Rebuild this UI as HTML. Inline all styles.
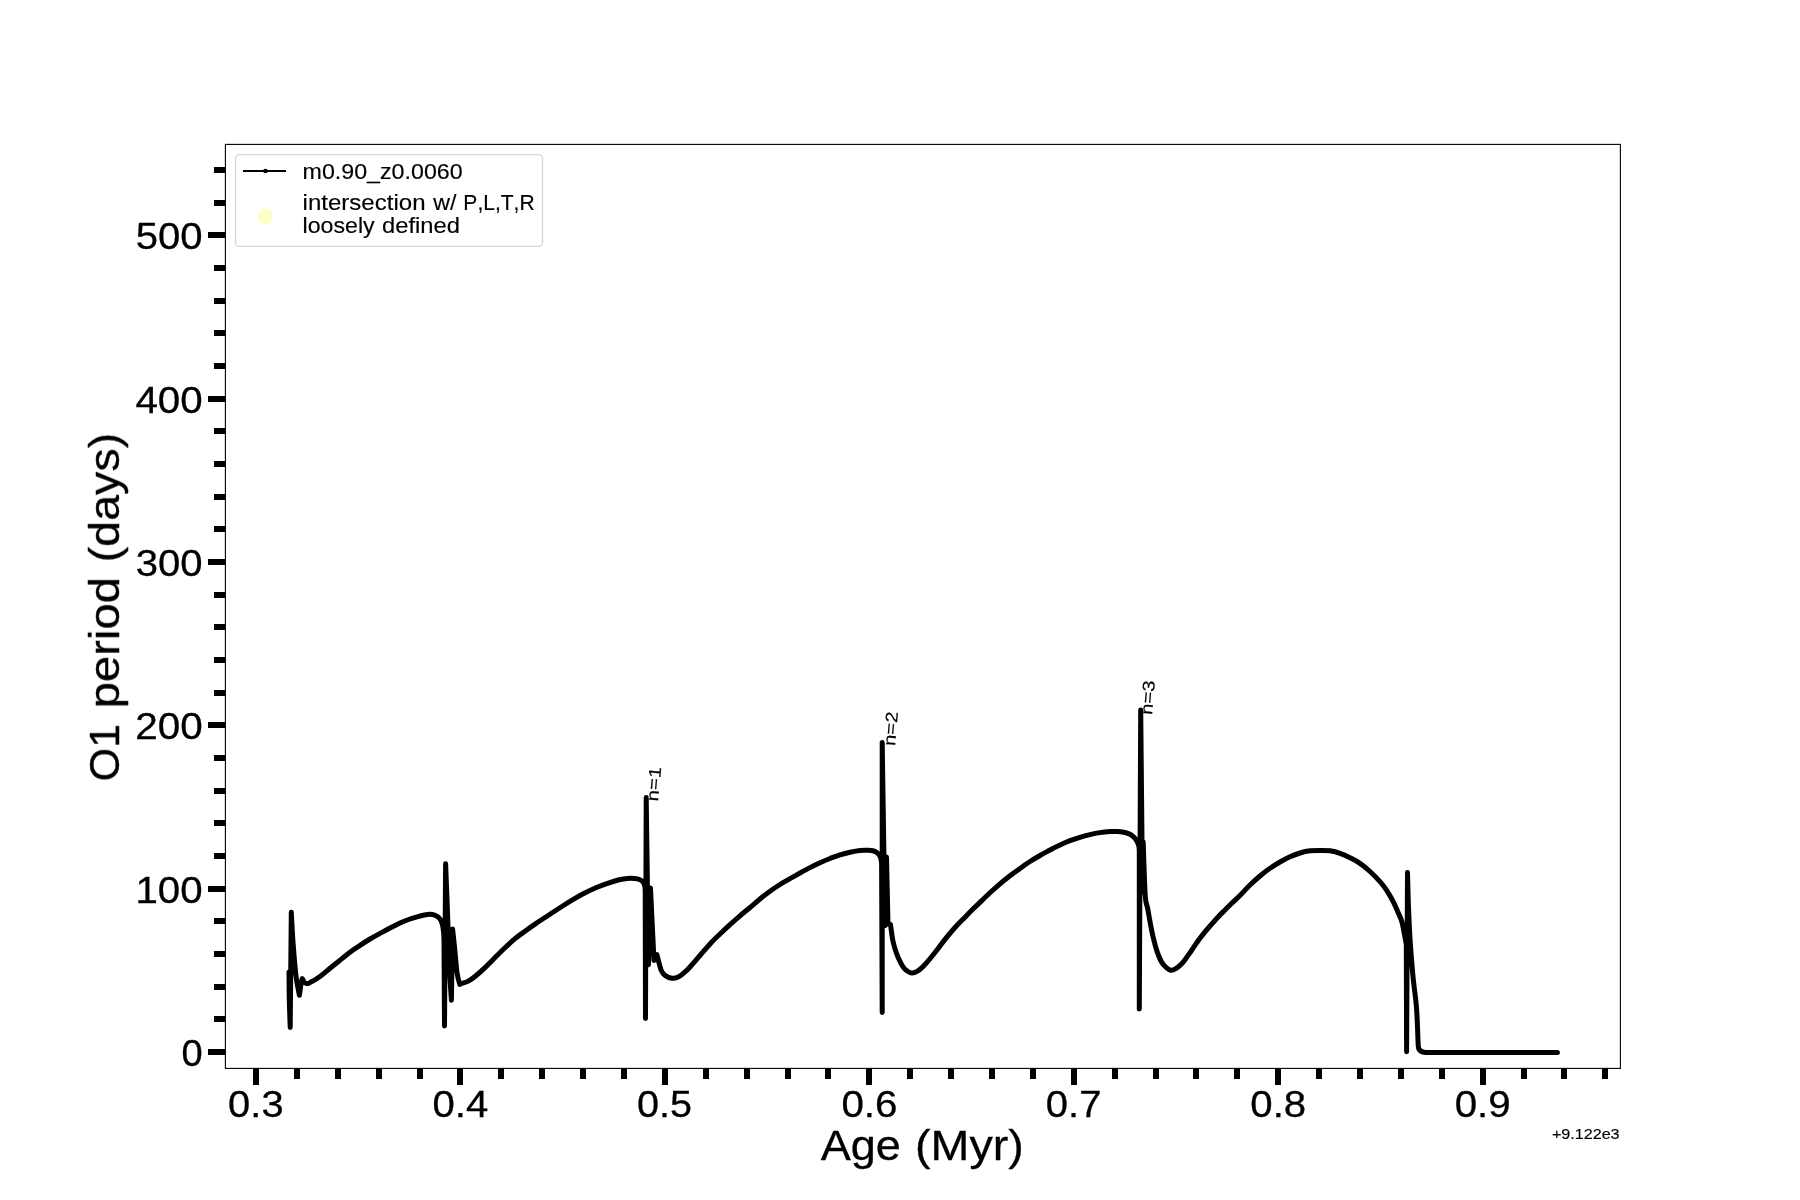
<!DOCTYPE html>
<html><head><meta charset="utf-8">
<style>
html,body{margin:0;padding:0;background:#fff;}
body{width:1800px;height:1200px;overflow:hidden;font-family:"Liberation Sans",sans-serif;}
svg{display:block}
text{font-family:"Liberation Sans",sans-serif;fill:#000;font-kerning:none;font-variant-ligatures:none}
.big text{stroke:#000;stroke-width:0.3px}
.med text{stroke:#000;stroke-width:0.15px}
</style></head><body>
<svg width="1800" height="1200" viewBox="0 0 1800 1200">
<rect x="0" y="0" width="1800" height="1200" fill="#fff"/>
<!--CURVE-->
<path d="M289.0 972.0C289.1 976.7 289.1 990.8 289.3 1000.0C289.5 1009.2 290.1 1022.9 290.2 1027.5L291.3 912.2C291.6 917.2 292.2 931.4 293.0 942.0C293.8 952.6 294.9 967.1 296.0 976.0C297.1 984.9 298.8 992.1 299.4 995.3C299.7 993.4 300.5 986.8 301.0 984.0C301.5 981.2 302.1 979.5 302.3 978.6C302.6 979.2 303.6 981.5 304.3 982.3C305.0 983.1 305.8 983.3 306.7 983.4C307.6 983.5 307.8 983.8 310.0 982.6C312.2 981.5 316.7 978.9 320.0 976.5C323.3 974.1 326.7 971.0 330.0 968.3C333.3 965.6 336.7 962.9 340.0 960.2C343.3 957.5 346.7 954.7 350.0 952.2C353.3 949.7 356.7 947.6 360.0 945.4C363.3 943.2 366.7 941.0 370.0 939.0C373.3 937.0 376.7 935.2 380.0 933.4C383.3 931.6 386.7 929.7 390.0 928.0C393.3 926.3 396.7 924.5 400.0 923.0C403.3 921.5 406.7 920.2 410.0 919.0C413.3 917.8 417.1 916.8 420.0 916.0C422.9 915.2 425.2 914.6 427.5 914.4C429.8 914.2 432.1 914.2 434.0 914.8C435.9 915.4 437.6 916.3 439.0 917.8C440.4 919.2 441.3 921.1 442.1 923.5C442.9 925.9 443.3 929.2 443.6 932.0C443.9 934.8 443.9 938.7 444.0 940.0L444.5 1026.0L445.6 863.8C445.9 871.8 446.9 896.0 447.5 912.0C448.1 928.0 448.4 945.3 449.0 960.0C449.6 974.7 451.0 993.6 451.4 1000.3L452.6 929.0C453.0 932.5 454.1 942.8 454.8 950.0C455.5 957.2 456.2 966.8 457.0 972.5C457.8 978.2 459.3 982.4 459.8 984.4C460.3 984.2 461.6 983.5 463.0 983.0C464.4 982.5 466.3 982.2 468.3 981.1C470.3 980.0 472.2 978.8 475.0 976.5C477.8 974.2 481.7 970.8 485.0 967.6C488.3 964.5 491.7 960.9 495.0 957.6C498.3 954.3 501.7 950.9 505.0 947.8C508.3 944.6 511.7 941.5 515.0 938.7C518.3 935.9 521.7 933.6 525.0 931.2C528.3 928.8 531.7 926.4 535.0 924.1C538.3 921.8 541.7 919.7 545.0 917.5C548.3 915.3 551.7 913.2 555.0 911.0C558.3 908.8 561.7 906.6 565.0 904.5C568.3 902.4 571.8 900.3 575.0 898.4C578.2 896.5 580.7 895.1 584.2 893.3C587.7 891.5 592.0 889.5 595.9 887.8C599.8 886.1 603.6 884.6 607.5 883.3C611.4 882.0 615.9 880.6 619.2 879.8C622.5 879.0 624.9 878.6 627.4 878.4C629.9 878.2 632.4 878.3 634.4 878.5C636.4 878.7 638.1 878.9 639.5 879.5C640.9 880.1 642.1 880.9 643.0 882.0C643.9 883.1 644.4 884.5 644.8 886.0C645.2 887.5 645.1 890.2 645.2 891.0L645.5 1018.6L646.2 797.5L648.5 964.8L650.5 888.0C650.8 895.0 651.9 917.9 652.5 930.0C653.1 942.1 653.8 955.4 654.0 960.5L656.9 954.6C657.2 955.7 657.8 958.4 658.5 961.0C659.2 963.6 660.2 968.1 661.3 970.5C662.4 972.9 663.5 974.3 665.3 975.6C667.1 976.9 669.8 978.1 672.0 978.3C674.2 978.5 676.5 977.8 678.7 976.7C680.9 975.6 683.4 973.3 685.3 971.7C687.2 970.1 687.5 969.7 690.0 967.0C692.5 964.3 696.7 959.3 700.0 955.5C703.3 951.7 706.7 947.6 710.0 944.0C713.3 940.4 716.7 937.2 720.0 934.0C723.3 930.8 726.7 927.6 730.0 924.6C733.3 921.6 736.7 918.6 740.0 915.8C743.3 912.9 746.7 910.3 750.0 907.5C753.3 904.7 756.7 901.7 760.0 899.0C763.3 896.3 766.7 893.6 770.0 891.2C773.3 888.8 776.7 886.6 780.0 884.5C783.3 882.4 786.7 880.6 790.0 878.7C793.3 876.8 796.7 874.9 800.0 873.0C803.3 871.1 806.7 869.3 810.0 867.6C813.3 865.9 816.7 864.3 820.0 862.8C823.3 861.3 826.7 859.8 830.0 858.5C833.3 857.2 836.7 855.8 840.0 854.8C843.3 853.8 846.7 852.9 850.0 852.2C853.3 851.5 857.0 850.8 860.0 850.5C863.0 850.2 865.7 850.2 868.0 850.3C870.3 850.4 872.2 850.5 873.9 851.0C875.6 851.5 876.9 852.4 878.0 853.5C879.1 854.6 880.0 855.9 880.6 857.5C881.2 859.1 881.4 862.1 881.6 863.0L882.2 1012.5L882.2 742.6L885.0 925.8L886.5 857.0L888.0 924.0L890.5 924.5C890.7 926.0 891.3 930.5 891.7 933.3C892.1 936.1 892.3 938.2 893.0 941.3C893.7 944.4 894.8 948.5 896.0 952.0C897.2 955.5 898.8 959.1 900.3 962.0C901.8 964.9 903.1 967.5 905.0 969.3C906.9 971.1 909.5 972.8 911.7 973.0C913.9 973.2 916.1 972.0 918.3 970.6C920.5 969.2 922.2 967.5 925.0 964.5C927.8 961.5 931.7 956.7 935.0 952.5C938.3 948.3 941.7 943.6 945.0 939.4C948.3 935.2 951.7 931.2 955.0 927.5C958.3 923.8 962.2 920.1 965.0 917.2C967.8 914.3 969.5 912.5 972.0 910.0C974.5 907.5 977.0 905.3 980.0 902.4C983.0 899.5 986.7 895.9 990.0 892.8C993.3 889.7 996.7 886.6 1000.0 883.8C1003.3 881.0 1006.7 878.4 1010.0 875.8C1013.3 873.2 1016.7 870.8 1020.0 868.4C1023.3 866.0 1026.7 863.6 1030.0 861.5C1033.3 859.4 1036.7 857.4 1040.0 855.5C1043.3 853.6 1046.7 851.8 1050.0 850.0C1053.3 848.2 1056.7 846.5 1060.0 845.0C1063.3 843.5 1066.7 842.0 1070.0 840.7C1073.3 839.4 1076.7 838.3 1080.0 837.3C1083.3 836.3 1086.7 835.4 1090.0 834.6C1093.3 833.8 1096.7 833.1 1100.0 832.6C1103.3 832.1 1107.0 831.8 1110.0 831.6C1113.0 831.4 1115.5 831.5 1118.0 831.6C1120.5 831.8 1123.0 832.0 1125.0 832.5C1127.0 833.0 1128.5 833.5 1130.0 834.3C1131.5 835.1 1132.8 836.1 1134.0 837.3C1135.2 838.5 1136.2 839.8 1137.0 841.3C1137.8 842.8 1138.4 844.4 1138.8 846.0C1139.2 847.6 1139.2 850.2 1139.3 851.0L1139.3 1009.0L1140.7 710.0L1142.5 892.0L1143.2 842.0C1143.5 850.8 1144.5 883.9 1145.2 895.0C1146.0 906.1 1146.9 903.8 1147.7 908.5C1148.5 913.2 1149.4 918.3 1150.3 923.2C1151.2 928.1 1152.2 933.3 1153.3 937.8C1154.4 942.3 1155.4 946.5 1156.7 950.4C1158.0 954.3 1159.5 958.2 1161.0 961.0C1162.5 963.8 1164.0 965.5 1165.7 967.0C1167.4 968.5 1169.2 970.1 1171.0 970.3C1172.8 970.5 1174.5 969.4 1176.3 968.3C1178.1 967.2 1179.9 965.6 1181.7 963.7C1183.5 961.8 1185.3 959.2 1187.0 957.0C1188.7 954.8 1189.8 953.0 1191.7 950.3C1193.6 947.5 1196.1 943.6 1198.3 940.5C1200.5 937.4 1202.8 934.5 1205.0 931.8C1207.2 929.1 1209.5 926.7 1211.7 924.2C1213.9 921.7 1216.1 919.2 1218.3 916.8C1220.5 914.4 1222.8 912.2 1225.0 910.0C1227.2 907.8 1229.2 905.7 1231.7 903.3C1234.2 900.9 1237.0 898.5 1240.0 895.5C1243.0 892.5 1246.7 888.2 1250.0 885.0C1253.3 881.8 1256.7 878.8 1260.0 876.0C1263.3 873.2 1266.7 870.6 1270.0 868.3C1273.3 866.0 1276.7 863.9 1280.0 862.0C1283.3 860.1 1286.7 858.3 1290.0 856.8C1293.3 855.3 1296.7 854.0 1300.0 853.0C1303.3 852.0 1306.7 851.2 1310.0 850.8C1313.3 850.4 1316.7 850.4 1320.0 850.4C1323.3 850.4 1326.7 850.3 1330.0 850.8C1333.3 851.3 1336.7 852.1 1340.0 853.3C1343.3 854.4 1346.7 856.0 1350.0 857.7C1353.3 859.4 1356.7 861.1 1360.0 863.4C1363.3 865.7 1366.7 868.5 1370.0 871.5C1373.3 874.5 1377.2 878.5 1380.0 881.6C1382.8 884.7 1384.5 886.9 1386.7 890.3C1388.9 893.7 1391.3 897.9 1393.3 901.8C1395.3 905.7 1397.3 910.5 1398.7 913.8C1400.1 917.1 1400.8 918.0 1401.8 921.5C1402.8 925.0 1403.8 931.3 1404.6 935.1C1405.3 938.9 1406.0 942.9 1406.3 944.4L1406.6 1051.8L1407.5 872.5C1407.7 877.9 1408.0 893.5 1408.4 905.0C1408.9 916.5 1409.4 929.8 1410.2 941.7C1411.0 953.6 1412.0 965.6 1413.0 976.6C1414.0 987.6 1415.7 997.1 1416.5 1007.8C1417.3 1018.5 1417.8 1035.3 1418.0 1040.8C1418.2 1042.2 1417.9 1047.1 1418.9 1049.0C1419.9 1050.9 1421.3 1051.7 1424.0 1052.3C1426.7 1052.9 1433.2 1052.5 1435.0 1052.5L1557.4 1052.5" fill="none" stroke="#000" stroke-width="5" stroke-linejoin="round" stroke-linecap="round"/>
<!--AXES-->
<rect x="225.4" y="144.4" width="1395" height="924" fill="none" stroke="#000" stroke-width="1.1"/>
<g fill="#000">
<rect x="253.00" y="1068" width="6" height="17"/>
<rect x="457.00" y="1068" width="6" height="17"/>
<rect x="662.00" y="1068" width="6" height="17"/>
<rect x="866.00" y="1068" width="6" height="17"/>
<rect x="1071.00" y="1068" width="6" height="17"/>
<rect x="1275.00" y="1068" width="6" height="17"/>
<rect x="1480.00" y="1068" width="6" height="17"/>
<rect x="294.00" y="1068" width="6" height="11"/>
<rect x="335.00" y="1068" width="6" height="11"/>
<rect x="376.00" y="1068" width="6" height="11"/>
<rect x="417.00" y="1068" width="6" height="11"/>
<rect x="498.00" y="1068" width="6" height="11"/>
<rect x="539.00" y="1068" width="6" height="11"/>
<rect x="580.00" y="1068" width="6" height="11"/>
<rect x="621.00" y="1068" width="6" height="11"/>
<rect x="703.00" y="1068" width="6" height="11"/>
<rect x="744.00" y="1068" width="6" height="11"/>
<rect x="785.00" y="1068" width="6" height="11"/>
<rect x="825.00" y="1068" width="6" height="11"/>
<rect x="907.00" y="1068" width="6" height="11"/>
<rect x="948.00" y="1068" width="6" height="11"/>
<rect x="989.00" y="1068" width="6" height="11"/>
<rect x="1030.00" y="1068" width="6" height="11"/>
<rect x="1112.00" y="1068" width="6" height="11"/>
<rect x="1153.00" y="1068" width="6" height="11"/>
<rect x="1193.00" y="1068" width="6" height="11"/>
<rect x="1234.00" y="1068" width="6" height="11"/>
<rect x="1316.00" y="1068" width="6" height="11"/>
<rect x="1357.00" y="1068" width="6" height="11"/>
<rect x="1398.00" y="1068" width="6" height="11"/>
<rect x="1439.00" y="1068" width="6" height="11"/>
<rect x="1521.00" y="1068" width="6" height="11"/>
<rect x="1561.00" y="1068" width="6" height="11"/>
<rect x="1602.00" y="1068" width="6" height="11"/>
<rect x="208.00" y="1049.00" width="17" height="6"/>
<rect x="208.00" y="886.00" width="17" height="6"/>
<rect x="208.00" y="722.00" width="17" height="6"/>
<rect x="208.00" y="559.00" width="17" height="6"/>
<rect x="208.00" y="396.00" width="17" height="6"/>
<rect x="208.00" y="232.00" width="17" height="6"/>
<rect x="214.00" y="1016.00" width="11" height="6"/>
<rect x="214.00" y="984.00" width="11" height="6"/>
<rect x="214.00" y="951.00" width="11" height="6"/>
<rect x="214.00" y="918.00" width="11" height="6"/>
<rect x="214.00" y="853.00" width="11" height="6"/>
<rect x="214.00" y="820.00" width="11" height="6"/>
<rect x="214.00" y="788.00" width="11" height="6"/>
<rect x="214.00" y="755.00" width="11" height="6"/>
<rect x="214.00" y="690.00" width="11" height="6"/>
<rect x="214.00" y="657.00" width="11" height="6"/>
<rect x="214.00" y="624.00" width="11" height="6"/>
<rect x="214.00" y="592.00" width="11" height="6"/>
<rect x="214.00" y="526.00" width="11" height="6"/>
<rect x="214.00" y="494.00" width="11" height="6"/>
<rect x="214.00" y="461.00" width="11" height="6"/>
<rect x="214.00" y="428.00" width="11" height="6"/>
<rect x="214.00" y="363.00" width="11" height="6"/>
<rect x="214.00" y="330.00" width="11" height="6"/>
<rect x="214.00" y="298.00" width="11" height="6"/>
<rect x="214.00" y="265.00" width="11" height="6"/>
<rect x="214.00" y="200.00" width="11" height="6"/>
<rect x="214.00" y="167.00" width="11" height="6"/>
</g>
<rect x="235.5" y="154.7" width="307" height="91.6" rx="3.5" ry="3.5" fill="#fff" fill-opacity="0.8" stroke="#cccccc" stroke-opacity="0.8" stroke-width="1.3"/>
<line x1="243" y1="171" x2="286" y2="171" stroke="#000" stroke-width="2"/>
<circle cx="265.5" cy="171" r="2.3" fill="#000"/>
<circle cx="265.5" cy="216.5" r="7" fill="#ffffcc" stroke="#ffffa6" stroke-width="1"/>
<g style="filter:grayscale(1)">
<g class="big">
<text y="1117.2" font-size="36.7"><tspan x="228.11" textLength="55.47" lengthAdjust="spacingAndGlyphs">0.3</tspan></text>
<text y="1117.2" font-size="36.7"><tspan x="432.54" textLength="55.76" lengthAdjust="spacingAndGlyphs">0.4</tspan></text>
<text y="1117.2" font-size="36.7"><tspan x="637.00" textLength="55.10" lengthAdjust="spacingAndGlyphs">0.5</tspan></text>
<text y="1117.2" font-size="36.7"><tspan x="841.41" textLength="56.12" lengthAdjust="spacingAndGlyphs">0.6</tspan></text>
<text y="1117.2" font-size="36.7"><tspan x="1045.87" textLength="55.53" lengthAdjust="spacingAndGlyphs">0.7</tspan></text>
<text y="1117.2" font-size="36.7"><tspan x="1250.30" textLength="55.90" lengthAdjust="spacingAndGlyphs">0.8</tspan></text>
<text y="1117.2" font-size="36.7"><tspan x="1454.73" textLength="55.99" lengthAdjust="spacingAndGlyphs">0.9</tspan></text>
<text y="1065.6" font-size="36.7"><tspan x="181.42" textLength="21.17" lengthAdjust="spacingAndGlyphs">0</tspan></text>
<text y="902.6" font-size="36.7"><tspan x="135.48" textLength="67.20" lengthAdjust="spacingAndGlyphs">100</tspan></text>
<text y="738.6" font-size="36.7"><tspan x="135.19" textLength="67.49" lengthAdjust="spacingAndGlyphs">200</tspan></text>
<text y="575.6" font-size="36.7"><tspan x="135.80" textLength="66.87" lengthAdjust="spacingAndGlyphs">300</tspan></text>
<text y="412.6" font-size="36.7"><tspan x="135.42" textLength="67.26" lengthAdjust="spacingAndGlyphs">400</tspan></text>
<text y="248.6" font-size="36.7"><tspan x="135.76" textLength="66.91" lengthAdjust="spacingAndGlyphs">500</tspan></text>
<text y="1160" font-size="42.4"><tspan x="820.69" textLength="80.14" lengthAdjust="spacingAndGlyphs">Age</tspan> <tspan x="914.98" textLength="108.89" lengthAdjust="spacingAndGlyphs">(Myr)</tspan></text>
<text transform="translate(119.0,606.8) rotate(-90)" y="0" font-size="42.4"><tspan x="-174.40" textLength="57.25" lengthAdjust="spacingAndGlyphs">O1</tspan> <tspan x="-101.41" textLength="131.26" lengthAdjust="spacingAndGlyphs">period</tspan> <tspan x="44.53" textLength="129.49" lengthAdjust="spacingAndGlyphs">(days)</tspan></text>
</g>
<g class="med">
<text y="1139.3" font-size="14.1"><tspan x="1551.90" textLength="67.70" lengthAdjust="spacingAndGlyphs">+9.122e3</tspan></text>
<text transform="translate(658.1,801.8) rotate(-85)" y="0" font-size="17"><tspan x="0.17" textLength="34.43" lengthAdjust="spacingAndGlyphs">n=1</tspan></text>
<text transform="translate(895.0,746.5) rotate(-85)" y="0" font-size="17"><tspan x="0.17" textLength="34.32" lengthAdjust="spacingAndGlyphs">n=2</tspan></text>
<text transform="translate(1152.0,715.5) rotate(-85)" y="0" font-size="17"><tspan x="0.16" textLength="34.54" lengthAdjust="spacingAndGlyphs">n=3</tspan></text>
<text y="178.9" font-size="21.2"><tspan x="302.55" textLength="160.08" lengthAdjust="spacingAndGlyphs">m0.90_z0.0060</tspan></text>
<text y="209.6" font-size="21.2"><tspan x="302.55" textLength="122.99" lengthAdjust="spacingAndGlyphs">intersection</tspan> <tspan x="433.29" textLength="23.15" lengthAdjust="spacingAndGlyphs">w/</tspan> <tspan x="463.37" textLength="71.28" lengthAdjust="spacingAndGlyphs">P,L,T,R</tspan></text>
<text y="232.7" font-size="21.2"><tspan x="302.60" textLength="72.08" lengthAdjust="spacingAndGlyphs">loosely</tspan> <tspan x="382.03" textLength="77.88" lengthAdjust="spacingAndGlyphs">defined</tspan></text>
</g>
</g>
</svg>
</body></html>
